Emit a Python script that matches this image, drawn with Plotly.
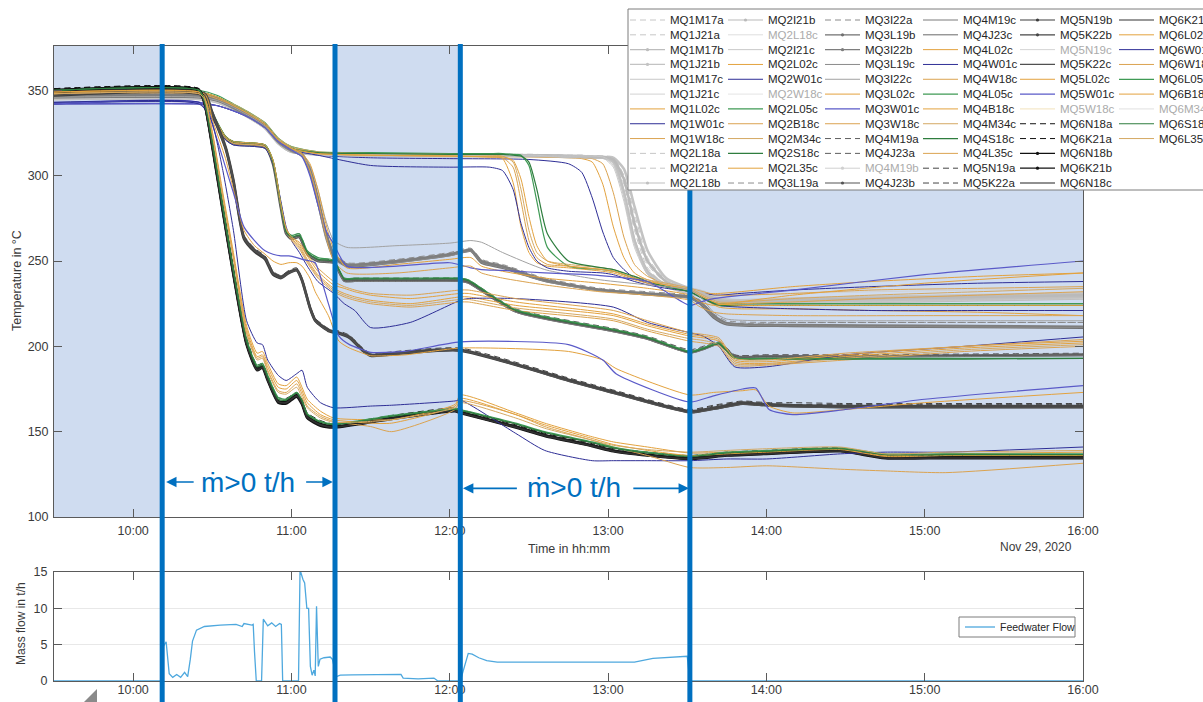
import plotly.graph_objects as go

DAY = "2020-11-29"

# ---------------- temperature readings, grouped by measuring level ----------------
T1 = ["09:30", "10:25", "10:32", "10:38", "10:44", "10:50", "10:55", "11:00", "11:10", "11:30",
      "12:00", "12:30", "12:45", "12:50", "12:54", "12:58", "13:02", "13:06", "13:10", "13:15",
      "13:22", "13:31", "13:36", "13:42", "13:50", "14:10", "14:40", "15:20", "16:00"]
L1 = {
    "MQ1M17a": [346, 346, 344, 340, 335, 329, 320, 315, 313, 312.5, 312, 312, 311.5, 311.5, 311, 311, 310, 295, 268, 246, 236, 232, 230, 226, 225, 226, 227, 228, 229],
    "MQ1J21a": [347, 347, 345, 341, 336, 330, 321, 316, 313.5, 313, 312.5, 312.5, 312, 312, 311.5, 311.5, 311, 300, 275, 250, 238, 233, 231, 227, 226, 227, 228, 230, 231],
    "MQ1M17b": [345, 345, 343, 339, 334, 328, 319, 314, 312.5, 312, 311.5, 311.5, 311, 311, 310.5, 310.5, 309, 290, 262, 243, 235, 231, 229, 225, 224, 225, 226, 227, 228],
    "MQ1J21b": [346, 346, 344, 340, 335, 329, 320, 315, 313, 312.5, 312, 312, 311.5, 311.5, 311, 311, 310.5, 304, 282, 256, 240, 234, 232, 228, 227, 228, 229, 230, 231],
    "MQ1M17c": [345, 345, 343, 340, 334, 328, 320, 315, 313, 312, 312, 312, 311.5, 311.5, 311, 310.5, 305, 285, 258, 242, 235, 231, 229, 226, 225, 226, 227, 228, 229],
    "MQ1J21c": [346, 346, 344, 341, 336, 330, 321, 316, 313.5, 313, 312.5, 312.5, 312, 312, 311.5, 311, 306, 288, 262, 244, 236, 232, 231, 229, 230, 231, 232, 233, 234],
    "MQ1L02c": [349, 349, 346, 341, 336, 330, 321, 316, 313, 312, 311.5, 311, 310.5, 310, 308, 295, 270, 252, 243, 239, 236, 233, 231, 231, 232, 235, 238, 241, 243],
    "MQ1W01c": [342, 342, 341, 338, 334, 328, 320, 315, 312, 310.5, 310, 309.5, 307, 302, 287, 267, 252, 245, 240, 237, 235, 233, 231, 230, 231, 233, 235, 237, 238],
    "MQ1W18c": [348, 348, 345, 341, 336, 330, 321, 316, 313, 312, 311.5, 311.5, 311, 310.5, 310, 307, 290, 264, 248, 241, 237, 234, 232, 230, 230, 231, 233, 234, 235],
}

T2 = ["09:30", "10:25", "10:32", "10:38", "10:44", "10:50", "10:55", "11:00", "11:10", "11:30",
      "12:00", "12:15", "12:20", "12:24", "12:27", "12:30", "12:33", "12:37", "12:45", "12:58",
      "13:02", "13:06", "13:10", "13:15", "13:22", "13:31", "13:36", "13:42", "13:50", "14:10",
      "14:40", "15:20", "16:00"]
L2 = {
    "MQ2L18a": [346, 346, 344, 340, 335, 329, 320, 315, 313, 312.5, 312, 312, 312, 312, 312, 312, 312, 312, 311.5, 311, 309, 296, 270, 248, 237, 232, 230, 226, 225, 226, 227, 228, 229],
    "MQ2I21a": [347, 347, 345, 341, 336, 330, 321, 316, 313.5, 313, 312.5, 312.5, 312.5, 312.5, 312.5, 312.5, 312.5, 312, 312, 311.5, 310, 300, 278, 252, 239, 233, 231, 227, 226, 227, 228, 229, 230],
    "MQ2L18b": [345, 345, 343, 339, 334, 328, 319, 314, 312.5, 312, 311.5, 311.5, 311.5, 311.5, 311.5, 311.5, 311.5, 311.5, 311, 310.5, 308, 290, 262, 244, 236, 232, 230, 226, 225, 226, 227, 228, 229],
    "MQ2I21b": [346, 346, 344, 340, 335, 329, 320, 315, 313, 312.5, 312, 312, 312, 312, 312, 312, 312, 312, 311.5, 311, 309.5, 298, 272, 250, 238, 233, 231, 227, 226, 227, 228, 229, 230],
    "MQ2I21c": [345, 345, 343, 340, 334, 328, 320, 315, 313, 312, 312, 312, 312, 312, 312, 312, 312, 311.5, 311.5, 311, 307, 288, 260, 243, 236, 231, 229, 225, 224, 225, 226, 227, 228],
    "MQ2L02c": [349, 349, 346, 341, 336, 330, 321, 316, 313, 312, 311.5, 311, 310, 296, 270, 255, 249, 247, 246, 244, 243, 241, 239, 237, 235, 232, 228, 223, 222, 222, 221, 220, 218],
    "MQ2W01c": [343, 343, 341, 338, 334, 328, 320, 315, 312, 306, 305, 305, 303, 292, 272, 258, 250, 246, 244, 243, 242, 240, 238, 236, 234, 232, 228, 224, 223, 222, 221, 221, 221],
    "MQ2L05c": [350, 350, 347, 342, 337, 331, 322, 317, 314, 313.5, 313, 313, 313, 312.5, 312, 306, 285, 258, 247, 245, 244, 242, 240, 238, 235, 232, 228, 225, 225, 225, 225, 225, 225],
    "MQ2B18c": [348, 348, 345, 341, 336, 330, 321, 316, 313, 312, 311.5, 311, 310.5, 305, 285, 262, 252, 248, 247, 245, 244, 242, 240, 238, 236, 233, 229, 225, 225, 226, 228, 230, 232],
    "MQ2M34c": [348, 348, 346, 342, 337, 331, 322, 317, 314, 313, 312.5, 312, 311.5, 308, 292, 268, 255, 250, 248, 246, 245, 243, 241, 239, 237, 234, 230, 226, 226, 228, 230, 232, 234],
    "MQ2S18c": [349, 349, 346, 341, 336, 330, 321, 316, 313.5, 313, 312.5, 312.5, 312.5, 312, 311.5, 308, 292, 266, 250, 246, 245, 243, 241, 238, 235, 232, 228, 224, 224, 224, 224, 224, 224],
    "MQ2L35c": [349, 349, 346, 341, 336, 330, 321, 316, 313, 312, 311.5, 311, 311, 309, 298, 276, 259, 250, 247, 245, 244, 242, 240, 238, 236, 233, 229, 225, 224, 224, 224, 224, 224],
}

T3 = ["09:30", "10:25", "10:32", "10:38", "10:44", "10:50", "10:55", "11:00", "11:04", "11:07",
      "11:10", "11:13", "11:16", "11:21", "11:40", "12:00", "12:08", "12:12", "12:20", "12:36",
      "12:57", "13:15", "13:31", "13:35", "13:40", "13:45", "14:10", "15:00", "16:00"]
L3 = {
    "MQ3L19a": [348, 348, 346, 341, 336, 330, 321, 316, 313, 305, 288, 268, 255, 249, 251, 255, 257.5, 251, 248, 240, 234, 232, 230, 227, 219, 215, 214, 214, 214],
    "MQ3I22a": [347, 347, 345, 340, 335, 329, 320, 315, 312.5, 302, 284, 264, 252, 248, 250.5, 254.5, 257, 250, 247, 239, 233, 231, 229, 226, 218, 214, 214, 214, 214],
    "MQ3L19b": [346, 346, 344, 340, 335, 329, 320, 315, 312, 303, 285, 266, 253, 247, 249.5, 253.5, 256, 249, 246, 238.5, 233, 230.5, 228.5, 225, 217, 213, 212, 211.5, 211],
    "MQ3I22b": [347, 347, 345, 340, 335, 329, 320, 315, 312.5, 304, 287, 267, 254, 248, 250, 254, 256.5, 250, 247, 239, 233, 231, 229, 226, 218, 213.5, 212.5, 212, 211.5],
    "MQ3L19c": [346, 346, 344, 339, 334, 328, 319, 314, 311.5, 301, 283, 263, 251, 247, 249, 253, 255.5, 249, 246, 238, 232.5, 230, 228, 225, 217, 213, 212, 211.5, 211],
    "MQ3I22c": [346, 346, 344, 340, 335, 329, 320, 315, 312, 306, 292, 274, 262, 258, 259, 260.5, 262, 261, 255, 245, 239, 236, 233, 229, 220, 216, 215, 215, 215],
    "MQ3L02c": [349, 349, 346, 341, 336, 330, 321, 316, 313, 307, 292, 272, 257, 246, 248, 251, 252, 247, 244, 240, 237, 234, 230, 226, 224, 225, 230, 237, 243],
    "MQ3W01c": [342, 342, 341, 338, 334, 328, 320, 315, 311, 300, 283, 268, 260, 247, 247, 249, 246, 245, 244.5, 243, 241.5, 238, 224, 226, 228, 229, 233, 242, 250],
    "MQ3W18c": [348, 348, 345, 341, 336, 330, 321, 316, 312.5, 303, 286, 265, 250, 243, 243, 246, 247, 243, 240, 236, 232, 230, 227, 223, 220, 219, 218, 218, 218],
}

T4 = ["09:30", "10:25", "10:30", "10:35", "10:38", "10:50", "10:53", "10:56", "10:58", "11:00",
      "11:03", "11:06", "11:10", "11:16", "11:20", "11:24", "11:30", "11:45", "12:04", "12:07",
      "12:25", "13:02", "13:15", "13:31", "13:36", "13:42", "13:48", "14:00", "14:30", "15:15",
      "16:00"]
L4 = {
    "MQ4M19a": [349, 349, 336, 323, 320, 318, 309, 283, 268, 265, 266, 256, 252, 250, 240, 240, 240, 240, 240, 239, 222, 210.5, 206, 198, 200, 203, 195, 195, 195, 195.5, 196],
    "MQ4J23a": [349, 349, 335, 322, 319, 317, 308, 282, 267, 264, 265, 255, 251, 249.5, 239.5, 239.5, 239.5, 239.5, 239.5, 238.5, 221.5, 210, 205.5, 197.5, 199.5, 202.5, 195, 195, 195, 195, 195.5],
    "MQ4J23b": [348, 348, 335, 322, 319, 317, 307, 281, 266, 263, 264, 254, 250, 249, 238.5, 238.5, 238.5, 238.5, 238.5, 237.5, 220.5, 209, 204.5, 196.5, 198.5, 201.5, 194, 194, 194, 194.5, 195],
    "MQ4M19c": [347, 347, 334, 321, 318, 316, 307, 281, 266, 263, 264, 254, 250, 248.5, 238, 238, 238, 238, 238, 237, 220, 208.5, 204, 196, 198, 201, 193.5, 193.5, 194, 194, 194.5],
    "MQ4J23c": [348, 348, 335, 322, 319, 317, 308, 282, 267, 264, 265, 255, 251, 249.5, 239, 239, 239, 239, 239, 238, 221, 209.5, 205, 197, 199, 202, 194.5, 194.5, 194.5, 195, 195.5],
    "MQ4L02c": [349, 349, 336, 323, 320, 318, 309, 283, 269, 263, 259, 251, 242, 234, 231, 229, 227, 225, 229, 229, 224, 218, 212, 206, 205, 203, 191, 190, 194, 199, 202],
    "MQ4W01c": [342, 342, 333, 321, 318, 316, 307, 285, 270, 262, 255, 247, 238, 231, 225, 221, 211, 214, 227, 228, 228, 223, 214, 208, 206, 200, 188, 188, 195, 200, 205.5],
    "MQ4W18c": [348, 348, 335, 322, 319, 317, 308, 282, 268, 262, 257, 249, 240, 232, 229, 227, 225, 223, 226, 226, 221, 215, 209, 203, 202, 200, 189, 189, 192, 197, 200],
    "MQ4L05c": [350, 350, 337, 323, 320, 318, 309, 283, 268, 265, 266, 256, 252, 250.5, 240, 240, 240, 240, 240, 239, 221.5, 210, 205.5, 197, 199, 202, 193.5, 193, 193, 193, 193],
    "MQ4B18c": [348, 348, 336, 323, 320, 318, 309, 283, 269, 264, 260, 253, 244, 236, 234, 232, 230, 228, 231, 231, 226, 219, 213, 207, 206, 204, 192, 191, 195, 200, 203],
    "MQ4M34c": [348, 348, 335, 322, 319, 317, 308, 282, 268, 263, 258, 250, 241, 233, 230, 228, 226, 224, 227.5, 227.5, 222.5, 216, 210, 204.5, 203.5, 201, 190, 189.5, 193, 198, 201],
    "MQ4S18c": [349, 349, 336, 323, 320, 318, 308, 282, 267, 264, 265, 255, 251, 250, 239.5, 239.5, 239.5, 239.5, 239.5, 238.5, 221, 209.5, 205, 196.5, 198.5, 201.5, 193, 192.5, 192.5, 192.5, 193],
    "MQ4L35c": [349, 349, 336, 323, 320, 318, 309, 283, 269, 264, 261, 254, 246, 238, 235, 233, 231, 230, 233, 233, 228, 221, 215, 208, 207, 205, 193, 192, 196, 200, 204],
}

T5 = ["09:30", "10:27", "10:30", "10:35", "10:38", "10:42", "10:46", "10:50", "10:53", "10:56",
      "10:59", "11:02", "11:04", "11:07", "11:09", "11:14", "11:18", "11:22", "11:27", "11:30",
      "11:43", "12:04", "12:45", "12:58", "13:03", "13:31", "13:40", "13:51", "13:56", "14:01",
      "14:10", "14:30", "15:00", "16:00"]
L5 = {
    "MQ5N19a": [349, 349, 338, 318, 298, 265, 257.5, 253, 244, 241.5, 244.5, 246, 240, 224, 216.5, 210.5, 209, 206.5, 199, 196, 197.5, 199, 181.5, 176, 174, 163, 165.5, 168, 167.5, 167, 167, 166.5, 166.5, 166.5],
    "MQ5K22a": [348, 348, 337, 317, 297, 264, 256.5, 252, 243, 240.5, 243.5, 245, 239, 223, 215.5, 209.5, 208, 205.5, 198, 195, 196.5, 198, 181, 175.5, 173.5, 162.5, 165, 167.5, 167, 166.5, 166, 166, 166, 166],
    "MQ5N19b": [347, 347, 336, 316, 296.5, 263, 255.5, 251, 242, 240, 243, 244.5, 238.5, 222.5, 215, 209, 207.5, 205, 197.5, 194.5, 196, 197.5, 180, 174.5, 172.5, 161.5, 163.5, 166.5, 166, 165.5, 165, 164.5, 164.5, 164.5],
    "MQ5K22b": [348, 348, 337, 317, 297.5, 264, 256.5, 252, 243, 240.7, 243.6, 245, 239, 223, 215.5, 209.6, 208, 205.5, 198, 195, 196.7, 198, 180.5, 175, 173, 162, 164, 167, 166.5, 166, 165.5, 165, 165, 165],
    "MQ5K22c": [347, 347, 336, 316, 297, 263.5, 256, 251.5, 242.5, 240, 243, 244.5, 238.5, 222.5, 215, 209, 207.5, 205, 197.5, 194.5, 196, 197.5, 179.5, 174, 172, 161, 163, 166, 165.5, 165, 164.5, 164, 164, 164],
    "MQ5L02c": [348, 348, 333, 310, 292, 268, 259, 254, 250, 248, 249, 249, 247, 240, 232, 218, 203, 199, 196, 194.5, 195, 199, 197, 192, 187, 171.5, 173, 174, 174.5, 165, 161, 163, 167, 173],
    "MQ5W01c": [342, 342, 330, 305, 290, 270, 262, 256, 254, 253, 253, 252, 251, 250, 249, 225, 206, 201, 198, 196.5, 197, 202.6, 201, 192, 184, 167.4, 171, 175, 175.6, 163, 160, 163, 169, 177],
}

T6 = ["09:30", "10:25", "10:27", "10:30", "10:34", "10:38", "10:43", "10:47", "10:49", "10:51",
      "10:55", "10:58", "11:02", "11:04", "11:06", "11:11", "11:16", "11:30", "11:38", "12:02",
      "12:04", "12:25", "12:36", "12:54", "13:02", "13:15", "13:31", "13:45", "14:00", "14:28",
      "14:45", "15:08", "16:00"]
L6 = {
    "MQ6N18a": [351, 351, 345, 321, 283, 246, 205, 189, 190, 183, 170, 169.5, 173, 169, 161, 156.5, 154.5, 157.5, 159.5, 164, 163, 154.5, 149.5, 143.5, 140.5, 138, 136, 138, 139, 140.5, 136.5, 136.5, 136.5],
    "MQ6K21a": [351, 351, 344, 319, 281, 244, 203, 188, 189.5, 182, 169, 168.5, 172.5, 168, 160, 155.5, 154, 157, 159, 163.5, 162.5, 154, 149, 143, 140, 137.5, 135.5, 137.5, 138.5, 140, 136, 136, 136],
    "MQ6N18b": [350, 350, 343, 318, 280, 243, 202, 187, 188.5, 181, 168, 167.5, 171.5, 167, 159, 154.5, 153, 156, 158, 162.5, 161.5, 153, 148, 142, 139, 136.5, 134.6, 136.5, 137.5, 139, 135, 135, 135],
    "MQ6K21b": [350, 350, 343, 317, 279, 242, 201, 186, 187.5, 180, 167, 166.5, 170.5, 166, 158, 153.5, 152.5, 155.5, 157.5, 162, 161, 152.5, 147.5, 141.5, 138.5, 136, 134, 136, 137, 138.5, 134.5, 134.5, 134.5],
    "MQ6N18c": [349, 349, 342.5, 317.5, 279.5, 242.5, 201.5, 186.5, 188, 180.5, 167.5, 167, 171, 166.5, 158.5, 154, 152.8, 155.8, 157.8, 162.2, 161.2, 152.8, 147.8, 141.8, 138.8, 136.2, 134.4, 136.2, 137.2, 138.8, 134.8, 134.8, 134.8],
    "MQ6K21c": [349, 349, 342, 317, 279, 242, 201, 186, 187.5, 180, 167.5, 167, 171, 166.5, 158.5, 154, 152.5, 155.5, 157.5, 162, 161, 152.5, 147.5, 141.5, 138.5, 136, 134, 136, 137, 138.5, 134.5, 134.5, 134.5],
    "MQ6L02c": [349, 349, 346, 326, 290, 255, 212, 196, 197, 190, 178, 177, 182, 176, 169, 162, 158, 157, 157, 166, 171.5, 161, 155, 147, 144, 141, 137.5, 138, 138.5, 140, 136, 137, 138],
    "MQ6W01c": [343, 343, 340, 331, 303, 268, 215, 202, 201, 192, 183, 180, 184, 186, 176, 167, 164, 165, 165.5, 168, 168.6, 149, 139, 133, 133, 133, 133, 134, 134, 137, 138, 138, 141],
    "MQ6W18c": [348, 348, 345, 324, 287, 252, 208, 193, 194, 186, 174, 173, 178, 172, 165, 159, 156, 153, 150, 163, 168, 160, 153, 145, 141, 136, 129, 129, 130, 128, 127, 126, 131.5],
    "MQ6L05c": [350, 350, 344, 320, 282, 245, 204, 189, 190, 183, 170, 169, 173, 168.5, 160.5, 156, 154.5, 157.5, 159.5, 163.5, 163, 155, 150, 144, 141, 138, 136, 138, 139, 140.5, 137, 137, 137],
    "MQ6B18c": [349, 349, 346, 325, 288, 253, 210, 194, 195, 188, 176, 175, 180, 174, 167, 160, 157, 155, 155, 165, 169.5, 160, 154, 146, 142.5, 139, 136, 137, 138, 139.5, 135.5, 136, 136],
    "MQ6S18c": [350, 350, 344, 319, 281, 244, 203, 188, 189, 182, 169, 168.5, 172.5, 168, 160, 155.5, 154, 157, 159, 163, 162.5, 154.5, 149.5, 143.5, 140.5, 137.5, 135.5, 137.5, 138.5, 140, 136.5, 136.5, 136.5],
    "MQ6L35c": [348, 348, 345, 324, 287, 251, 207, 192, 193, 185, 173, 172, 176, 170, 164, 158, 155.5, 156, 157, 164, 167, 158, 152, 145, 142, 139.5, 138, 139, 140, 141, 137, 138, 139],
}

LEVELS = [(T1, L1), (T2, L2), (T3, L3), (T4, L4), (T5, L5), (T6, L6)]

# ---------------- feedwater mass flow ----------------
FLOW_T = ["09:30", "10:11", "10:11:30", "10:12:30", "10:13:40", "10:15", "10:16:30", "10:18", "10:19:30",
          "10:20:40", "10:21:40", "10:22:30", "10:24", "10:27", "10:33", "10:39", "10:41:20", "10:42",
          "10:45", "10:45:30", "10:46", "10:46:40", "10:48:40", "10:49:20", "10:51", "10:52:30", "10:54",
          "10:55:30", "10:56:10", "10:56:40", "11:02:40", "11:03:15", "11:04:20", "11:05", "11:05:50",
          "11:06:30", "11:07:10", "11:07:50", "11:08:30", "11:09", "11:09:30", "11:10:10", "11:10:50",
          "11:12:20", "11:14:40", "11:15:30", "11:17", "11:18:30", "11:23", "11:32", "11:41:30",
          "11:42:20", "11:48", "11:54", "11:55:30", "12:04", "12:05:30", "12:07", "12:08:30", "12:11",
          "12:14", "12:18", "12:30", "12:45", "12:55", "13:00", "13:10", "13:17", "13:24", "13:30",
          "13:31", "16:00"]
FLOW_V = [0, 0, 4.8, 5.4, 1.0, 0.5, 0.9, 0.5, 1.2,
          0.6, 3.0, 5.5, 7.0, 7.5, 7.7, 7.8, 7.5, 7.9,
          7.7, 7.8, 4.0, 0.0, 0.0, 8.5, 7.6, 8.0, 7.5,
          7.9, 7.8, 0.0, 0.0, 15.3, 14.0, 13.5, 10.0,
          10.0, 2.0, 0.8, 1.5, 0.7, 10.3, 2.0, 3.0,
          3.2, 3.3, 3.0, 0.6, 0.8, 0.85, 0.9, 0.9,
          0.4, 0.3, 0.4, 0.0, 0.0, 2.0, 3.8, 3.7, 3.2,
          2.8, 2.6, 2.6, 2.6, 2.65, 2.7, 2.6, 3.1, 3.3, 3.4,
          0.0, 0.0]

# feedwater switching instants and the spans without feed flow
SWITCH_TIMES = ["10:11", "11:16:30", "12:04", "13:31"]
NOFLOW_SPANS = [("09:30", "10:11"), ("11:16:30", "12:04"), ("13:31", "16:00")]
FLOW_LABEL = "ṁ>0 t/h"
FLOW_LABEL_POS = [("10:43:30", 120.5), ("12:47", 117.3)]
FLOW_ARROWS = [  # (tip, tail, temperature level)
    ("10:12:30", "10:23:30", 120.5), ("11:15:40", "11:05", 120.5),
    ("12:05", "12:26", 116.8), ("13:30:40", "13:09", 116.8),
]

TEMP_TICKS = [100, 150, 200, 250, 300, 350]
FLOW_TICKS = [0, 5, 10, 15]

# legend layout, column by column
LEGEND_COLUMNS = [
    ["MQ1M17a", "MQ1J21a", "MQ1M17b", "MQ1J21b", "MQ1M17c", "MQ1J21c", "MQ1L02c", "MQ1W01c", "MQ1W18c", "MQ2L18a", "MQ2I21a", "MQ2L18b"],
    ["MQ2I21b", "MQ2L18c", "MQ2I21c", "MQ2L02c", "MQ2W01c", "MQ2W18c", "MQ2L05c", "MQ2B18c", "MQ2M34c", "MQ2S18c", "MQ2L35c", "MQ3L19a"],
    ["MQ3I22a", "MQ3L19b", "MQ3I22b", "MQ3L19c", "MQ3I22c", "MQ3L02c", "MQ3W01c", "MQ3W18c", "MQ4M19a", "MQ4J23a", "MQ4M19b", "MQ4J23b"],
    ["MQ4M19c", "MQ4J23c", "MQ4L02c", "MQ4W01c", "MQ4W18c", "MQ4L05c", "MQ4B18c", "MQ4M34c", "MQ4S18c", "MQ4L35c", "MQ5N19a", "MQ5K22a"],
    ["MQ5N19b", "MQ5K22b", "MQ5N19c", "MQ5K22c", "MQ5L02c", "MQ5W01c", "MQ5W18c", "MQ6N18a", "MQ6K21a", "MQ6N18b", "MQ6K21b", "MQ6N18c"],
    ["MQ6K21c", "MQ6L02c", "MQ6W01c", "MQ6W18c", "MQ6L05c", "MQ6B18c", "MQ6M34c", "MQ6S18c", "MQ6L35c"],
]
HIDDEN = {"MQ2L18c", "MQ2W18c", "MQ4M19b", "MQ5N19c", "MQ5W18c", "MQ6M34c"}

# ---------------- line styles: (colour, dash, width, dot marker) ----------------
DASH = "6px,4px"
OR1, OR2, OR3 = "#e3a23e", "#dba350", "#d4a862"
BLU, BLU2 = "#2e2e96", "#5a5ac8"
GRN, GRN2 = "#3f9a55", "#2e7d3e"
STYLE = {
    "MQ1M17a": ("#c6c6c6", DASH, 1.0, False), "MQ1J21a": ("#c6c6c6", DASH, 1.0, False),
    "MQ1M17b": ("#bdbdbd", "solid", 2.6, True), "MQ1J21b": ("#c3c3c3", "solid", 2.6, True),
    "MQ1M17c": ("#c8c8c8", "solid", 1.0, False), "MQ1J21c": ("#d2d2d2", "solid", 1.0, False),
    "MQ1L02c": (OR1, "solid", 1.0, False), "MQ1W01c": (BLU, "solid", 1.0, False), "MQ1W18c": (OR2, "solid", 1.0, False),
    "MQ2L18a": ("#c6c6c6", DASH, 1.0, False), "MQ2I21a": ("#c6c6c6", DASH, 1.0, False),
    "MQ2L18b": ("#c0c0c0", "solid", 2.6, True), "MQ2I21b": ("#bababa", "solid", 2.6, True),
    "MQ2L18c": ("#dedede", "solid", 1.0, False), "MQ2I21c": ("#c8c8c8", "solid", 1.0, False),
    "MQ2L02c": (OR1, "solid", 1.0, False), "MQ2W01c": (BLU, "solid", 1.0, False),
    "MQ2W18c": ("#e4e4e4", "solid", 1.0, False), "MQ2L05c": (GRN, "solid", 1.2, False),
    "MQ2B18c": (OR2, "solid", 1.0, False), "MQ2M34c": (OR3, "solid", 1.0, False),
    "MQ2S18c": (GRN2, "solid", 1.2, False), "MQ2L35c": (OR1, "solid", 1.0, False),
    "MQ3L19a": ("#8e8e8e", DASH, 1.0, False), "MQ3I22a": ("#8a8a8a", DASH, 1.0, False),
    "MQ3L19b": ("#707070", "solid", 2.6, True), "MQ3I22b": ("#7e7e7e", "solid", 2.6, True),
    "MQ3L19c": ("#8a8a8a", "solid", 1.0, False), "MQ3I22c": ("#a2a2a2", "solid", 1.0, False),
    "MQ3L02c": (OR1, "solid", 1.0, False), "MQ3W01c": (BLU2, "solid", 1.2, False), "MQ3W18c": (OR2, "solid", 1.0, False),
    "MQ4M19a": ("#5e5e5e", DASH, 1.0, False), "MQ4J23a": ("#5e5e5e", DASH, 1.0, False),
    "MQ4M19b": ("#d0d0d0", "solid", 1.0, True), "MQ4J23b": ("#555555", "solid", 2.6, True),
    "MQ4M19c": ("#7a7a7a", "solid", 1.0, False), "MQ4J23c": ("#6a6a6a", "solid", 1.0, False),
    "MQ4L02c": (OR1, "solid", 1.0, False), "MQ4W01c": (BLU, "solid", 1.0, False),
    "MQ4W18c": (OR2, "solid", 1.0, False), "MQ4L05c": (GRN, "solid", 1.2, False),
    "MQ4B18c": (OR1, "solid", 1.0, False), "MQ4M34c": (OR3, "solid", 1.0, False),
    "MQ4S18c": (GRN2, "solid", 1.2, False), "MQ4L35c": (OR2, "solid", 1.0, False),
    "MQ5N19a": ("#454545", DASH, 1.0, False), "MQ5K22a": ("#454545", DASH, 1.0, False),
    "MQ5N19b": ("#3c3c3c", "solid", 2.6, True), "MQ5K22b": ("#474747", "solid", 2.6, True),
    "MQ5N19c": ("#d4d4d4", "solid", 1.0, False), "MQ5K22c": ("#505050", "solid", 1.2, False),
    "MQ5L02c": (OR1, "solid", 1.0, False), "MQ5W01c": (BLU2, "solid", 1.2, False),
    "MQ5W18c": ("#f2e2bc", "solid", 1.0, False),
    "MQ6N18a": ("#111111", DASH, 1.0, False), "MQ6K21a": ("#111111", DASH, 1.0, False),
    "MQ6N18b": ("#111111", "solid", 2.6, True), "MQ6K21b": ("#111111", "solid", 2.6, True),
    "MQ6N18c": ("#222222", "solid", 2.2, False), "MQ6K21c": ("#333333", "solid", 1.2, False),
    "MQ6L02c": (OR1, "solid", 1.0, False), "MQ6W01c": (BLU, "solid", 1.0, False),
    "MQ6W18c": (OR2, "solid", 1.0, False), "MQ6L05c": (GRN, "solid", 1.2, False),
    "MQ6B18c": (OR1, "solid", 1.0, False), "MQ6M34c": ("#e0e0e0", "solid", 1.0, False),
    "MQ6S18c": (GRN2, "solid", 1.2, False), "MQ6L35c": (OR3, "solid", 1.0, False),
}

FLOW_COLOR = "#4ea8de"
MARK_BLUE = "#0070c0"
SHADE = "#cfdcf0"
AXIS_COLOR = "#5a5a5a"
TEXT_COLOR = "#3a3a3a"
FONT = "Liberation Sans, Arial, DejaVu Sans, sans-serif"

# ---------------- page geometry ----------------
W, H = 1203, 702
ML, MR, MT, MB = 54, 120, 46, 21
PW, PH = W - ML - MR, H - MT - MB


def px(x):
    return (x - ML) / PW


def py(y):
    return (H - MB - y) / PH


def ts(s):
    return f"{DAY} {s}"


series = {}
for times, table in LEVELS:
    for name, vals in table.items():
        if len(vals) != len(times):
            raise ValueError(f"{name}: {len(vals)} values for {len(times)} times")
        series[name] = (times, vals)

fig = go.Figure()

# temperature traces, drawn in legend order
for col in LEGEND_COLUMNS:
    for name in col:
        if name in HIDDEN:
            continue
        times, vals = series[name]
        color, dash, width, _ = STYLE[name]
        fig.add_trace(go.Scatter(
            x=[ts(t) for t in times], y=vals, mode="lines", name=name,
            line=dict(color=color, dash=dash, width=width, shape="spline", smoothing=0.6),
            showlegend=False, hoverinfo="skip", xaxis="x", yaxis="y"))

fig.add_trace(go.Scatter(
    x=[ts(t) for t in FLOW_T], y=FLOW_V, mode="lines", name="Feedwater Flow",
    line=dict(color=FLOW_COLOR, width=1.3), showlegend=False, hoverinfo="skip",
    xaxis="x2", yaxis="y2", cliponaxis=True))

shapes = []
for a, b in NOFLOW_SPANS:
    shapes.append(dict(type="rect", xref="x", yref="y domain", x0=ts(a), x1=ts(b), y0=0, y1=1,
                       fillcolor=SHADE, line=dict(width=0), layer="below"))
for t in SWITCH_TIMES:
    shapes.append(dict(type="line", xref="x", yref="paper", x0=ts(t), x1=ts(t), y0=py(704), y1=py(44),
                       line=dict(color=MARK_BLUE, width=5), layer="above"))

annotations = []
for (tx, ty) in FLOW_LABEL_POS:
    annotations.append(dict(xref="x", yref="y", x=ts(tx), y=ty, text=FLOW_LABEL, showarrow=False,
                            font=dict(family=FONT, size=28, color=MARK_BLUE), xanchor="center", yanchor="middle"))
for tip, tail, lev in FLOW_ARROWS:
    annotations.append(dict(xref="x", yref="y", axref="x", ayref="y", x=ts(tip), y=lev, ax=ts(tail), ay=lev,
                            text="", showarrow=True, arrowhead=2, arrowsize=1.3, arrowwidth=1.6,
                            arrowcolor=MARK_BLUE))

# legend box for the temperature series
LEG_TEXT_X = [668, 766, 863, 961, 1058, 1157]
LEG_ROW0, LEG_ROW_STEP = 20, 14.82
shapes.append(dict(type="rect", xref="paper", yref="paper", x0=px(628), x1=px(1230), y0=py(190), y1=py(9),
                   fillcolor="white", line=dict(color="#7d7d7d", width=1), layer="above"))
for c, col in enumerate(LEGEND_COLUMNS):
    for r, name in enumerate(col):
        color, dash, width, dotted = STYLE[name]
        yy = LEG_ROW0 + r * LEG_ROW_STEP
        x1 = LEG_TEXT_X[c] - 3
        x0 = x1 - 35
        shapes.append(dict(type="line", xref="paper", yref="paper", x0=px(x0), x1=px(x1), y0=py(yy), y1=py(yy),
                           line=dict(color=color, width=min(width, 1.2), dash=dash), layer="above"))
        if dotted:
            cx, rr = (x0 + x1) / 2, 1.6
            shapes.append(dict(type="circle", xref="paper", yref="paper", x0=px(cx - rr), x1=px(cx + rr),
                               y0=py(yy + rr), y1=py(yy - rr), fillcolor=color, line=dict(width=0), layer="above"))
        annotations.append(dict(xref="paper", yref="paper", x=px(LEG_TEXT_X[c]), y=py(yy), text=name,
                                showarrow=False, xanchor="left", yanchor="middle",
                                font=dict(family=FONT, size=11.5, color="#ababab" if name in HIDDEN else "#262626")))

# legend for the mass flow panel
shapes.append(dict(type="rect", xref="paper", yref="paper", x0=px(959), x1=px(1075), y0=py(637), y1=py(617),
                   fillcolor="white", line=dict(color="#7d7d7d", width=1), layer="above"))
shapes.append(dict(type="line", xref="paper", yref="paper", x0=px(965), x1=px(995), y0=py(627), y1=py(627),
                   line=dict(color=FLOW_COLOR, width=1.3), layer="above"))
annotations.append(dict(xref="paper", yref="paper", x=px(998), y=py(627), text="Feedwater Flow", showarrow=False,
                        xanchor="left", yanchor="middle", font=dict(family=FONT, size=10.5, color="#262626")))

# small corner mark at the lower left
shapes.append(dict(type="path", xref="paper", yref="paper",
                   path=f"M {px(84)} {py(702)} L {px(97)} {py(689)} L {px(97)} {py(702)} Z",
                   fillcolor="#8a8a8a", line=dict(width=0), layer="above"))

# axis titles and date stamp
centered = dict(xref="paper", yref="paper", showarrow=False, xanchor="center", yanchor="middle")
annotations += [
    dict(x=px(17), y=py(281), text="Temperature in °C", textangle=-90,
         font=dict(family=FONT, size=12.5, color=TEXT_COLOR), **centered),
    dict(x=px(569), y=py(549), text="Time in hh:mm",
         font=dict(family=FONT, size=12.5, color=TEXT_COLOR), **centered),
    dict(x=px(1036), y=py(547), text="Nov 29, 2020",
         font=dict(family=FONT, size=12, color=TEXT_COLOR), **centered),
    dict(x=px(21), y=py(624), text="Mass flow in t/h", textangle=-90,
         font=dict(family=FONT, size=12, color=TEXT_COLOR), **centered),
]

axis_style = dict(showline=True, linecolor=AXIS_COLOR, linewidth=1, mirror="ticks", ticks="inside", ticklen=8,
                  tickcolor=AXIS_COLOR, tickwidth=1, zeroline=False, automargin=False,
                  tickfont=dict(family=FONT, size=12.5, color=TEXT_COLOR))
x_style = dict(type="date", range=[ts("09:30"), ts("16:00")], tickformat="%H:%M", dtick=3600000,
               tick0=ts("10:00"), showgrid=False, **axis_style)

fig.update_layout(
    width=W, height=H, autosize=False,
    margin=dict(l=ML, r=MR, t=MT, b=MB),
    paper_bgcolor="white", plot_bgcolor="white", showlegend=False,
    xaxis=dict(domain=[0, 1], anchor="y", ticklabelstandoff=2, **x_style),
    yaxis=dict(domain=[py(517), 1], anchor="x", range=[100, 376], tickvals=TEMP_TICKS, showgrid=False,
               ticklabelstandoff=2, **axis_style),
    xaxis2=dict(domain=[0, 1], anchor="y2", ticklabelstandoff=-3, **x_style),
    yaxis2=dict(domain=[0, py(572)], anchor="x2", range=[0, 15], tickvals=FLOW_TICKS, showgrid=True,
                gridcolor="#e8e8e8", gridwidth=1, ticklabelstandoff=3, **axis_style),
    shapes=shapes, annotations=annotations,
)

fig.write_html("out.html")
